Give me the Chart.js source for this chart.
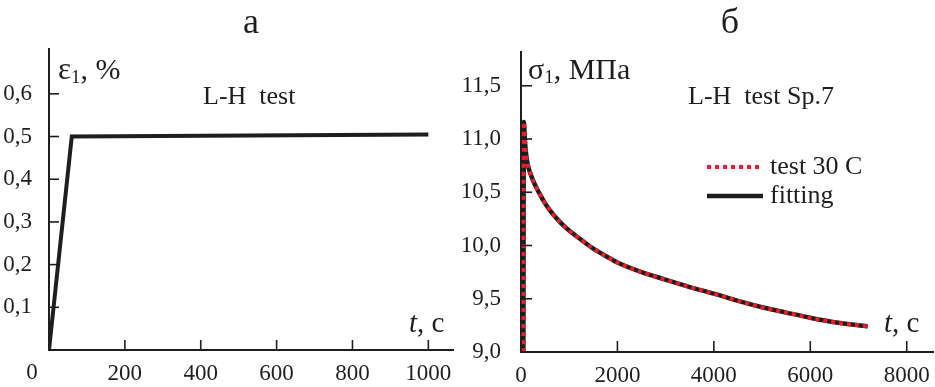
<!DOCTYPE html>
<html>
<head>
<meta charset="utf-8">
<script src="https://cdn.jsdelivr.net/npm/chart.js@4/dist/chart.umd.min.js"></script>
<style>
  html, body { margin: 0; padding: 0; background: #fff; }
  #wrap { position: relative; width: 935px; height: 387px; }
  .box { position: absolute; top: 0; height: 387px; }
  #left { left: 0; width: 455px; }
  #right { left: 455px; width: 480px; }
</style>
</head>
<body>
<div id="wrap">
  <div class="box" id="left"><canvas id="strainChart" width="455" height="387"></canvas></div>
  <div class="box" id="right"><canvas id="stressChart" width="480" height="387"></canvas></div>
</div>
<script>
// panel a: strain vs time
const strainTime = [0, 60, 1000];
const strainValues = [0, 0.5, 0.505];
const strainXTicks = [200, 400, 600, 800, 1000];
const strainYTicks = [0.1, 0.2, 0.3, 0.4, 0.5, 0.6];

// panel b: stress relaxation
const stressTime = [50, 60, 80, 100, 140, 200, 280, 370, 480, 600, 830, 1000, 1200, 1500, 1880, 2000, 2500, 2920, 3500, 4020, 4500, 5000, 5500, 6020, 6500, 7190];
const stressTest = [9.0, 11.16, 11.0, 10.88, 10.76, 10.67, 10.58, 10.5, 10.41, 10.33, 10.21, 10.14, 10.07, 9.97, 9.87, 9.84, 9.75, 9.69, 9.61, 9.545, 9.48, 9.42, 9.37, 9.32, 9.28, 9.24];
const stressFit = [9.0, 11.16, 11.0, 10.88, 10.76, 10.67, 10.58, 10.5, 10.41, 10.33, 10.21, 10.14, 10.07, 9.97, 9.87, 9.84, 9.75, 9.69, 9.61, 9.545, 9.48, 9.42, 9.37, 9.32, 9.28, 9.24];
const stressXTicks = [0, 2000, 4000, 6000, 8000];
const stressYTicks = [9.0, 9.5, 10.0, 10.5, 11.0, 11.5];

const INK = "#1e1e1e";
const SERIF = '"Liberation Serif", "Times New Roman", serif';
const TICK_FONT = { family: SERIF, size: 23 };

const toPoints = (xs, ys) => xs.map((x, i) => ({ x: x, y: ys[i] }));
const commaLabel = (v) => Number(v).toFixed(1).replace(".", ",");

// draws a run of text pieces (for subscripts / italics)
const drawRich = (ctx, x, y, parts) => {
  let cx = x;
  parts.forEach((p) => {
    ctx.font = (p.italic ? "italic " : "") + p.size + "px " + SERIF;
    ctx.fillText(p.text, cx, y + (p.dy || 0));
    cx += ctx.measureText(p.text).width;
  });
};

const decorPlugin = {
  id: "decor",
  afterDraw(chart, args, opts) {
    const { ctx, chartArea, scales } = chart;
    const x = scales.x;
    const y = scales.y;
    ctx.save();
    ctx.strokeStyle = INK;
    ctx.fillStyle = INK;
    ctx.lineWidth = 1.6;

    // inward tick marks
    opts.xTicks.forEach((v) => {
      const px = x.getPixelForValue(v);
      ctx.beginPath();
      ctx.moveTo(px, chartArea.bottom);
      ctx.lineTo(px, chartArea.bottom - opts.tickLen);
      ctx.stroke();
    });
    opts.yTicks.forEach((v) => {
      const py = y.getPixelForValue(v);
      ctx.beginPath();
      ctx.moveTo(chartArea.left, py);
      ctx.lineTo(chartArea.left + opts.tickLen, py);
      ctx.stroke();
    });

    ctx.textBaseline = "alphabetic";
    ctx.textAlign = "left";
    (opts.texts || []).forEach((t) => drawRich(ctx, t.x, t.y, t.parts));

    ctx.textAlign = "center";
    ctx.font = "36px " + SERIF;
    ctx.fillText(opts.title, opts.titleX, 33);

    if (opts.origin) {
      ctx.font = TICK_FONT.size + "px " + SERIF;
      ctx.textBaseline = "middle";
      ctx.fillText("0", x.getPixelForValue(0) - 17, opts.origin);
    }

    if (opts.legend) {
      const lg = opts.legend;
      ctx.textAlign = "left";
      ctx.textBaseline = "alphabetic";
      chart.data.datasets.forEach((ds, i) => {
        const ly = lg.y + i * lg.step;
        ctx.save();
        ctx.strokeStyle = ds.borderColor;
        ctx.lineWidth = ds.borderWidth;
        ctx.setLineDash(ds.borderDash || []);
        ctx.beginPath();
        ctx.moveTo(lg.x, ly);
        ctx.lineTo(lg.x + lg.len, ly);
        ctx.stroke();
        ctx.restore();
        ctx.font = "26px " + SERIF;
        ctx.fillText(ds.label, lg.x + lg.len + 7, ly + 7);
      });
    }
    ctx.restore();
  },
};

const makeScale = (min, max, ticks, size, labelFn, pad, isX) => ({
  type: "linear",
  min: min,
  max: max,
  afterBuildTicks: (s) => {
    s.ticks = ticks.map((v) => ({ value: v }));
  },
  afterFit: (s) => {
    if (isX) s.height = size;
    else s.width = size;
  },
  grid: { display: false },
  border: { color: INK, width: 2 },
  ticks: {
    color: INK,
    font: TICK_FONT,
    padding: pad,
    autoSkip: false,
    maxRotation: 0,
    callback: labelFn,
  },
});

new Chart(document.getElementById("strainChart"), {
  type: "line",
  data: {
    datasets: [
      {
        label: "strain",
        data: toPoints(strainTime, strainValues),
        borderColor: INK,
        borderWidth: 4,
        pointRadius: 0,
        tension: 0,
      },
    ],
  },
  options: {
    responsive: false,
    animation: false,
    layout: { padding: { left: 0, right: 2, top: 49, bottom: 0 } },
    plugins: {
      legend: { display: false },
      tooltip: { enabled: false },
      decor: {
        xTicks: strainXTicks,
        yTicks: strainYTicks,
        tickLen: 10,
        title: "а",
        titleX: 251,
        origin: 373,
        texts: [
          { x: 58, y: 79, parts: [{ text: "ε", size: 31 }, { text: "1", size: 19, dy: 4 }, { text: ", %", size: 30 }] },
          { x: 203, y: 104, parts: [{ text: "L-H  test", size: 26 }] },
          { x: 409, y: 332, parts: [{ text: "t", size: 29, italic: true }, { text: ", c", size: 29 }] },
        ],
      },
    },
    scales: {
      x: makeScale(0, 1065, strainXTicks, 37, (v) => String(v), 2, true),
      y: makeScale(0, 0.705, strainYTicks, 49, commaLabel, 9, false),
    },
  },
  plugins: [decorPlugin],
});

new Chart(document.getElementById("stressChart"), {
  type: "line",
  data: {
    datasets: [
      {
        label: "test 30 C",
        data: toPoints(stressTime, stressTest),
        borderColor: "#ee1c25",
        borderWidth: 4,
        borderDash: [4, 4],
        pointRadius: 0,
        cubicInterpolationMode: "monotone",
        order: 0,
      },
      {
        label: "fitting",
        data: toPoints(stressTime, stressFit),
        borderColor: INK,
        borderWidth: 4.5,
        pointRadius: 0,
        cubicInterpolationMode: "monotone",
        order: 1,
      },
    ],
  },
  options: {
    responsive: false,
    animation: false,
    layout: { padding: { left: 0, right: 2, top: 52, bottom: 0 } },
    plugins: {
      legend: { display: false },
      tooltip: { enabled: false },
      decor: {
        xTicks: stressXTicks,
        yTicks: stressYTicks,
        tickLen: 11,
        title: "б",
        titleX: 275,
        texts: [
          { x: 73, y: 79, parts: [{ text: "σ", size: 30 }, { text: "1", size: 19, dy: 4 }, { text: ", МПа", size: 30 }] },
          { x: 233, y: 104, parts: [{ text: "L-H  test Sp.7", size: 26 }] },
          { x: 429, y: 332, parts: [{ text: "t", size: 29, italic: true }, { text: ", c", size: 29 }] },
        ],
        legend: { x: 252, y: 167, step: 29, len: 56 },
      },
    },
    scales: {
      x: makeScale(0, 8545, stressXTicks, 35, (v) => String(v), 2, true),
      y: makeScale(9, 11.817, stressYTicks, 66, commaLabel, 12, false),
    },
  },
  plugins: [decorPlugin],
});
</script>
</body>
</html>
